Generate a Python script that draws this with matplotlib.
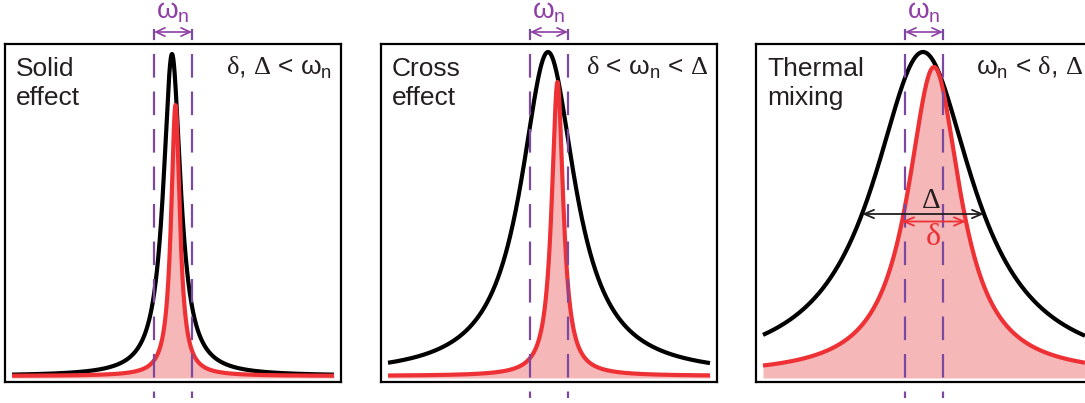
import numpy as np
import matplotlib.pyplot as plt

plt.rcParams["font.family"] = ["Liberation Sans", "DejaVu Sans"]
plt.rcParams["mathtext.fontset"] = "custom"
plt.rcParams["mathtext.rm"] = "Liberation Serif"
plt.rcParams["mathtext.sf"] = "Liberation Sans"

titles = ["Solid\neffect", "Cross\neffect", "Thermal\nmixing"]
regimes = [
    r"$\mathrm{\delta}$, $\mathrm{\Delta}$ < $\mathsf{\omega}_\mathsf{n}$",
    r"$\mathrm{\delta}$ < $\mathsf{\omega}_\mathsf{n}$ < $\mathrm{\Delta}$",
    r"$\mathsf{\omega}_\mathsf{n}$ < $\mathrm{\delta}$, $\mathrm{\Delta}$",
]

# Lorentzian line shapes (frequency offset, half width, peak height)
epr_center = [-1.0, -1.0, -1.0]
epr_hwhm = [10.5, 33.0, 61.0]
epr_height = [322.0, 324.0, 324.0]
spin_center = [2.5, 8.5, 10.0]
spin_hwhm = [5.3, 7.0, 32.0]
spin_height = [271.0, 294.0, 309.0]
omega_n = 38.0
baseline = 6.0

BLACK = "#000000"
RED = "#ed3135"
PINK = "#f5b7b8"
PURPLE = "#8e3fa5"
DASH = "#7b4aa0"

W, H = 1085, 403
fig = plt.figure(figsize=(W / 100, H / 100), dpi=100)

panel_left = [5, 381, 756]
panel_w, panel_h, panel_bottom = 336, 338, 21
freq = np.linspace(-161, 161, 1201)


def lorentz(x, x0, g, a):
    return a * g**2 / ((x - x0) ** 2 + g**2)


for i in range(3):
    ax = fig.add_axes([panel_left[i] / W, panel_bottom / H, panel_w / W, panel_h / H])
    ax.set_xlim(-panel_w / 2, panel_w / 2)
    ax.set_ylim(0, panel_h)
    ax.set_xticks([])
    ax.set_yticks([])
    for s in ax.spines.values():
        s.set_linewidth(1.6)

    epr = baseline + lorentz(freq, epr_center[i], epr_hwhm[i], epr_height[i])
    spin = baseline + lorentz(freq, spin_center[i], spin_hwhm[i], spin_height[i])
    ax.fill_between(freq, 4, spin, color=PINK, lw=0, zorder=1)
    ax.plot(freq, epr, color=BLACK, lw=3, solid_capstyle="butt", zorder=2)
    ax.plot(freq, spin, color=RED, lw=3, solid_capstyle="butt", zorder=3)

    # nuclear Larmor frequency window
    for xv in (-omega_n / 2, omega_n / 2):
        ax.plot([xv, xv], [353, -16], color=DASH, lw=1.6,
                linestyle=(9 / 1.6, (17 / 1.6, 10 / 1.6)), clip_on=False, zorder=4)
    ax.annotate("", xy=(-omega_n / 2, 350), xytext=(omega_n / 2, 350),
                arrowprops=dict(arrowstyle="<->,head_length=0.65,head_width=0.3",
                                color=PURPLE, lw=1.2, shrinkA=0, shrinkB=0),
                annotation_clip=False)
    ax.text(0, 364, r"$\mathsf{\omega}_\mathsf{n}$", color=PURPLE, fontsize=20,
            ha="center", va="baseline", clip_on=False)

    ax.text(11 / panel_w, (382 - 57) / panel_h, titles[i], transform=ax.transAxes,
            fontsize=19, color="#231f20", ha="left", va="top", linespacing=1.25)
    ax.text((panel_w - 9) / panel_w, (382 - 75) / panel_h, regimes[i],
            transform=ax.transAxes, fontsize=19, color="#231f20",
            ha="right", va="baseline")

    if i == 2:
        half_epr = baseline + epr_height[i] / 2
        half_spin = baseline + spin_height[i] / 2
        ax.annotate("", xy=(epr_center[i] - epr_hwhm[i], half_epr),
                    xytext=(epr_center[i] + epr_hwhm[i], half_epr),
                    arrowprops=dict(arrowstyle="<->,head_length=0.7,head_width=0.3",
                                    color="#231f20", lw=1.3, shrinkA=0, shrinkB=0),
                    zorder=5)
        ax.annotate("", xy=(spin_center[i] - spin_hwhm[i], half_spin),
                    xytext=(spin_center[i] + spin_hwhm[i], half_spin),
                    arrowprops=dict(arrowstyle="<->,head_length=0.7,head_width=0.3",
                                    color=RED, lw=1.3, shrinkA=0, shrinkB=0),
                    zorder=5)
        ax.text(7, half_epr + 6, r"$\mathrm{\Delta}$", fontsize=21, color="#231f20",
                ha="center", va="baseline", zorder=6)
        ax.text(9, half_spin - 24, r"$\mathrm{\delta}$", fontsize=23, color=RED,
                ha="center", va="baseline", zorder=6)

fig.savefig("out.png", dpi=100)
